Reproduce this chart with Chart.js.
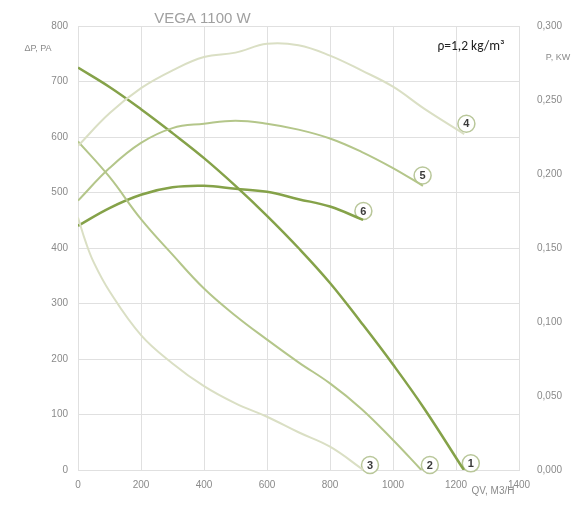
<!DOCTYPE html>
<html lang="ru">

<head>
    <meta charset="UTF-8">
    <title>VEGA 1100 W</title>
    <style>
        html, body { margin: 0; padding: 0; background: #fff; }
        #wrap { width: 573px; height: 505px; }
    </style>
</head>

<body>
    <div id="wrap">
        <canvas id="myChart" width="573" height="505"></canvas>
    </div>

    <script src="https://cdn.jsdelivr.net/npm/chart.js@4/dist/chart.umd.min.js"></script>
    <script>
        // flow, m3/h
        const xTicks = [0, 200, 400, 600, 800, 1000, 1200, 1400];

        // pressure curves (left axis, Pa)
        const q1 = [0, 100, 200, 300, 400, 500, 600, 700, 800, 900, 1000, 1100, 1225];
        const dp1 = [725, 690, 650, 607, 562, 512, 458, 400, 337, 265, 190, 110, 0];
        const q2 = [0, 100, 200, 300, 400, 500, 600, 700, 800, 900, 1000, 1090];
        const dp2 = [592, 528, 452, 388, 327, 278, 235, 194, 156, 110, 54, 0];
        const q3 = [0, 25, 50, 100, 200, 300, 400, 500, 600, 700, 800, 906];
        const dp3 = [455, 410, 374, 322, 243, 192, 151, 120, 96, 68, 42, 0];

        // power curves (right axis, kW)
        const q4 = [0, 100, 200, 300, 400, 500, 600, 700, 800, 900, 1000, 1100, 1226];
        const p4 = [0.219, 0.241, 0.258, 0.270, 0.279, 0.282, 0.288, 0.287, 0.280, 0.270, 0.259, 0.244, 0.227];
        const q5 = [0, 100, 200, 300, 400, 500, 600, 700, 800, 900, 1000, 1095];
        const p5 = [0.182, 0.204, 0.221, 0.231, 0.234, 0.236, 0.234, 0.230, 0.224, 0.215, 0.204, 0.192];
        const q6 = [0, 100, 200, 300, 400, 500, 600, 700, 800, 905];
        const p6 = [0.165, 0.177, 0.186, 0.191, 0.192, 0.190, 0.188, 0.183, 0.178, 0.169];

        // circled curve numbers
        const tagNames = ['1', '2', '3'];
        const tagQ = [1247, 1117, 927];
        const tagDp = [12, 9, 9];
        const tagNames2 = ['4', '5', '6'];
        const tagQ2 = [1233, 1094, 906];
        const tagP = [0.234, 0.199, 0.175];

        const dark = '#85a249';
        const mid = '#b4c68a';
        const light = '#dadfc4';

        const pts = (xs, ys) => xs.map((x, i) => ({ x: x, y: ys[i] }));

        const line = (data, color, w, axis) => ({
            type: 'line',
            data: data,
            yAxisID: axis,
            borderColor: color,
            borderWidth: w,
            pointRadius: 0,
            fill: false,
            tension: 0.4
        });

        const tags = (xs, ys, axis, names) => ({
            type: 'scatter',
            data: pts(xs, ys),
            yAxisID: axis,
            names: names,
            pointRadius: 8.5,
            pointBackgroundColor: '#fff',
            pointBorderColor: '#b9c79a',
            pointBorderWidth: 1.5,
            clip: false
        });

        const extras = {
            id: 'extras',
            afterDatasetsDraw(chart) {
                const ctx = chart.ctx;
                const xs = chart.scales.x;
                ctx.save();
                // circled numbers
                ctx.font = 'bold 11px "Liberation Sans", Arial';
                ctx.fillStyle = '#3a3a3a';
                ctx.textAlign = 'center';
                ctx.textBaseline = 'middle';
                chart.data.datasets.forEach((ds, i) => {
                    if (!ds.names) return;
                    chart.getDatasetMeta(i).data.forEach((el, j) => {
                        ctx.fillText(ds.names[j], el.x, el.y + 0.5);
                    });
                });
                // title
                ctx.font = '15px "Liberation Sans", Arial';
                ctx.fillStyle = '#a0a0a0';
                ctx.textBaseline = 'alphabetic';
                ctx.fillText('VEGA 1100 W', xs.getPixelForValue(395), 23);
                // axis names
                ctx.font = '9px "Liberation Sans", Arial';
                ctx.fillStyle = '#8a8a8a';
                ctx.fillText('\u0394P, PA', 38, 51);
                ctx.fillText('P, KW', 558, 60);
                ctx.font = '10px "Liberation Sans", Arial';
                ctx.fillText('QV, M3/H', 493, 494);
                // density note
                ctx.font = '13.5px Carlito, "Liberation Sans", Arial';
                ctx.fillStyle = '#222';
                ctx.fillText('\u03c1=1,2 kg/m\u00b3', 471, 50);
                ctx.restore();
            }
        };

        const tickFont = { size: 10, family: '"Liberation Sans", Arial' };

        const config = {
            data: {
                datasets: [
                    line(pts(q3, dp3), light, 2, 'y'),
                    line(pts(q4, p4), light, 2, 'y1'),
                    line(pts(q2, dp2), mid, 2, 'y'),
                    line(pts(q5, p5), mid, 2, 'y1'),
                    line(pts(q6, p6), dark, 2.5, 'y1'),
                    line(pts(q1, dp1), dark, 2.5, 'y'),
                    tags(tagQ, tagDp, 'y', tagNames),
                    tags(tagQ2, tagP, 'y1', tagNames2)
                ]
            },
            options: {
                responsive: false,
                animation: false,
                layout: { padding: { top: 26, left: 0, right: 0, bottom: 0 } },
                plugins: {
                    legend: { display: false },
                    tooltip: { enabled: false }
                },
                scales: {
                    x: {
                        type: 'linear',
                        min: 0,
                        max: 1400,
                        afterBuildTicks: (s) => { s.ticks = xTicks.map(v => ({ value: v })); },
                        afterFit: (s) => { s.height = 35; },
                        grid: { color: '#e0e0e0', drawTicks: false },
                        border: { color: '#e0e0e0' },
                        ticks: { color: '#8a8a8a', font: tickFont, padding: 9, maxRotation: 0, callback: (v) => String(v) }
                    },
                    y: {
                        position: 'left',
                        min: 0,
                        max: 800,
                        afterFit: (s) => { s.width = 78; },
                        grid: { color: '#e0e0e0', drawTicks: false },
                        border: { color: '#e0e0e0' },
                        ticks: { stepSize: 100, color: '#8a8a8a', font: tickFont, padding: 10 }
                    },
                    y1: {
                        position: 'right',
                        min: 0,
                        max: 0.3,
                        afterFit: (s) => { s.width = 54; },
                        grid: { display: false },
                        border: { color: '#e0e0e0' },
                        ticks: {
                            stepSize: 0.05,
                            color: '#8a8a8a',
                            font: tickFont,
                            padding: 10,
                            callback: (v) => v.toFixed(3).replace('.', ',')
                        }
                    }
                }
            },
            plugins: [extras]
        };

        const myChart = new Chart(document.getElementById('myChart'), config);
    </script>
</body>

</html>
